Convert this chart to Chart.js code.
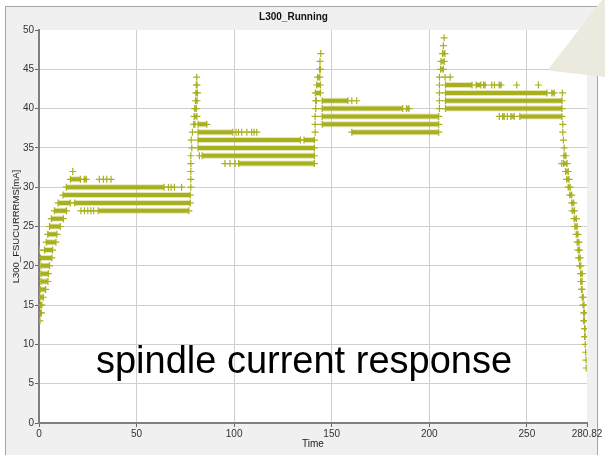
<!DOCTYPE html>
<html>
<head>
<meta charset="utf-8">
<script src="https://cdn.jsdelivr.net/npm/chart.js@4.4.1/dist/chart.umd.min.js"></script>
<style>
    html, body { margin: 0; padding: 0; background: #fff; }
    canvas { display: block; }
</style>
</head>
<body>
<canvas id="runningChart" width="605" height="455"></canvas>
<script>
var xTicks = [0, 50, 100, 150, 200, 250, 280.82];

// dense horizontal runs of samples: level [mA], first and last time
var runLevel = [14, 15, 16, 17, 18, 19, 20, 21, 22, 23, 24, 25, 26, 27, 28, 27, 28, 29, 30, 31, 31,
    38, 39, 40, 41, 42, 43, 38, 37, 36, 36, 35, 34, 33,
    41, 42, 43, 44, 45, 41, 40, 40, 39, 38, 37,
    47, 46, 45, 43, 43, 43, 43, 42, 42, 41, 40, 39, 39, 39,
    34, 33, 32, 31, 30, 29, 28, 27, 26, 25, 24, 23, 22, 21, 20, 19, 18, 17, 16, 15, 14, 13, 12, 11];
var runFrom = [0.8, 0.8, 0.5, 0.6, 1.0, 1.0, 1.0, 0.8, 2.8, 3.7, 4.5, 5.4, 6.3, 7.9, 9.8, 30.3, 18.3, 12.3, 14.0, 16.1, 23.2,
    79.3, 79.5, 79.8, 80.2, 80.4, 80.6, 81.5, 81.5, 81.5, 135.8, 81.5, 83.6, 102.3,
    141.8, 141.6, 142.3, 142.8, 143.8, 145.1, 145.1, 188.3, 145.1, 145.1, 160.3,
    206.8, 206.0, 205.8, 208.3, 224.0, 227.8, 235.8, 208.3, 262.8, 208.3, 208.3, 237.6, 241.8, 246.4,
    269.0, 268.8, 269.8, 270.4, 271.2, 272.0, 273.0, 273.2, 274.2, 274.6, 275.3, 275.8, 276.2, 276.5,
    277.0, 277.5, 277.6, 278.0, 278.4, 278.8, 279.1, 279.1, 279.6, 279.6];
var runTo = [1.2, 1.5, 2.2, 3.4, 4.6, 4.8, 5.4, 6.6, 7.0, 8.7, 9.2, 10.9, 12.5, 14.1, 16.0, 76.8, 77.5, 77.5, 64.1, 21.2, 24.2,
    79.9, 80.9, 80.6, 81.0, 81.2, 81.0, 86.0, 99.3, 134.0, 141.1, 141.1, 141.1, 141.1,
    142.1, 144.2, 144.2, 143.9, 144.2, 158.3, 186.4, 189.6, 204.8, 204.8, 204.8,
    208.0, 207.6, 207.2, 221.9, 226.4, 228.6, 236.8, 260.3, 264.0, 268.0, 268.0, 238.4, 243.5, 268.0,
    270.0, 270.6, 271.2, 271.6, 272.2, 273.0, 274.0, 274.4, 275.4, 275.8, 276.2, 276.7, 277.0, 277.3,
    277.6, 278.4, 278.3, 278.3, 278.9, 279.3, 279.6, 279.6, 279.8, 279.8];

// single samples
var dotTime = [0.5, 0.2, 21.5, 23.3, 25.0, 26.6, 28.0, 66.3, 67.7, 69.4, 73.1, 30.9, 33.0, 34.7, 36.9, 17.3,
    77.8, 77.8, 77.8, 77.8, 77.8, 82.2, 78.3, 78.0, 78.6, 80.8,
    95.3, 97.9, 100.5, 101.0, 102.2, 103.9, 106.5, 109.0, 110.2, 111.6,
    141.5, 141.5, 141.5, 141.8, 144.0, 144.4, 160.3, 162.8,
    207.6, 207.2, 205.2, 208.1, 210.7, 205.2, 205.2, 205.2, 205.2,
    232.0, 233.4, 244.8, 255.9, 235.9, 240.0, 268.2,
    268.4, 268.4, 268.7, 269.1, 267.9, 279.9, 280.1, 280.3, 280.4];
var dotLevel = [13, 22, 27, 27, 27, 27, 27, 30, 30, 30, 30, 31, 31, 31, 31, 32,
    30, 31, 32, 33, 34, 34, 35, 36, 37, 44,
    33, 33, 33, 37, 37, 37, 37, 37, 37, 37,
    37, 38, 39, 40, 46, 47, 41, 41,
    49, 48, 44, 44, 44, 43, 42, 41, 40,
    43, 43, 43, 43, 39, 39, 42,
    38, 37, 36, 35, 33, 10, 9, 8, 7];

var olive = '#a9b01f';
var fontFamily = "'Liberation Sans Narrow', 'Liberation Sans', Arial, sans-serif";

var runPoints = [];
for (var i = 0; i < runLevel.length; i++) {
    runPoints.push({ x: runFrom[i], y: runLevel[i] });
    runPoints.push({ x: runTo[i], y: runLevel[i] });
    runPoints.push({ x: runTo[i], y: null });
}
var dotPoints = dotTime.map(function (t, i) {
    return { x: t, y: dotLevel[i] };
});

var framePlugin = {
    id: 'frame',
    beforeDraw: function (chart) {
        var c = chart.ctx, a = chart.chartArea;
        c.save();
        c.fillStyle = '#ffffff';
        c.fillRect(0, 0, chart.width, chart.height);
        c.fillStyle = '#f0f0f0';
        c.fillRect(5, 6, 593, 449);
        c.strokeStyle = '#a6a6a6';
        c.lineWidth = 1;
        c.strokeRect(5.5, 6.5, 592, 460);
        c.fillStyle = '#ffffff';
        c.fillRect(a.left, a.top, a.right - a.left, a.bottom - a.top);
        c.restore();
    },
    afterDraw: function (chart) {
        var c = chart.ctx;
        c.save();
        c.fillStyle = '#000000';
        c.font = "38px 'Liberation Sans', Arial, sans-serif";
        c.textAlign = 'center';
        c.textBaseline = 'alphabetic';
        c.fillText('spindle current response', 304, 373);
        c.fillStyle = '#ece9de';
        c.beginPath();
        c.moveTo(602, 0);
        c.lineTo(605, 0);
        c.lineTo(605, 77);
        c.lineTo(552, 71);
        c.quadraticCurveTo(547, 70, 550, 67);
        c.closePath();
        c.fill();
        c.restore();
    }
};

function hideEdge(edges) {
    return function (ctx) {
        if (ctx.tick && edges.indexOf(ctx.tick.value) !== -1) {
            return 'rgba(0,0,0,0)';
        }
        return '#cfcfcf';
    };
}

new Chart(document.getElementById('runningChart').getContext('2d'), {
    type: 'scatter',
    data: {
        datasets: [{
            data: runPoints,
            showLine: true,
            spanGaps: false,
            borderColor: 'rgba(169,176,31,0.3)',
            borderWidth: 6,
            pointRadius: 0
        }, {
            data: runPoints,
            showLine: true,
            spanGaps: false,
            borderColor: olive,
            borderWidth: 4,
            pointStyle: 'cross',
            pointRadius: 3.5,
            pointBorderWidth: 1.2,
            pointBorderColor: olive,
            pointBackgroundColor: olive
        }, {
            data: dotPoints,
            pointStyle: 'cross',
            pointRadius: 3.5,
            pointBorderWidth: 1.2,
            borderColor: olive,
            backgroundColor: olive
        }]
    },
    options: {
        responsive: false,
        animation: false,
        layout: { padding: { left: 0, right: 18, top: 0, bottom: 0 } },
        plugins: {
            legend: { display: false },
            tooltip: { enabled: false },
            title: {
                display: true,
                text: 'L300_Running',
                color: '#111',
                font: { family: fontFamily, size: 10, weight: 'bold' },
                padding: { top: 11, bottom: 7 }
            }
        },
        scales: {
            x: {
                type: 'linear',
                min: 0,
                max: 280.82,
                afterBuildTicks: function (scale) {
                    scale.ticks = xTicks.map(function (v) { return { value: v }; });
                },
                afterFit: function (scale) { scale.height = 32; },
                ticks: {
                    autoSkip: false,
                    maxRotation: 0,
                    padding: 1,
                    color: '#333',
                    font: { family: fontFamily, size: 10 },
                    callback: function (v) { return String(v); }
                },
                grid: { color: hideEdge([0, 280.82]), tickColor: '#666', tickLength: 4 },
                border: { display: true, color: '#7f7f7f', width: 2 },
                title: {
                    display: true,
                    text: 'Time',
                    color: '#222',
                    font: { family: fontFamily, size: 10 },
                    padding: { top: 0, bottom: 5 }
                }
            },
            y: {
                min: 0,
                max: 50,
                afterFit: function (scale) { scale.width = 39; },
                ticks: {
                    stepSize: 5,
                    padding: 1,
                    color: '#333',
                    font: { family: fontFamily, size: 10 }
                },
                grid: { color: hideEdge([0, 50]), tickColor: '#666', tickLength: 4 },
                border: { display: true, color: '#7f7f7f', width: 2 },
                title: {
                    display: true,
                    text: 'L300_FSUCURRRMS[mA]',
                    color: '#222',
                    font: { family: fontFamily, size: 9.5 },
                    padding: { top: 11, bottom: 0 }
                }
            }
        }
    },
    plugins: [framePlugin]
});
</script>
</body>
</html>
